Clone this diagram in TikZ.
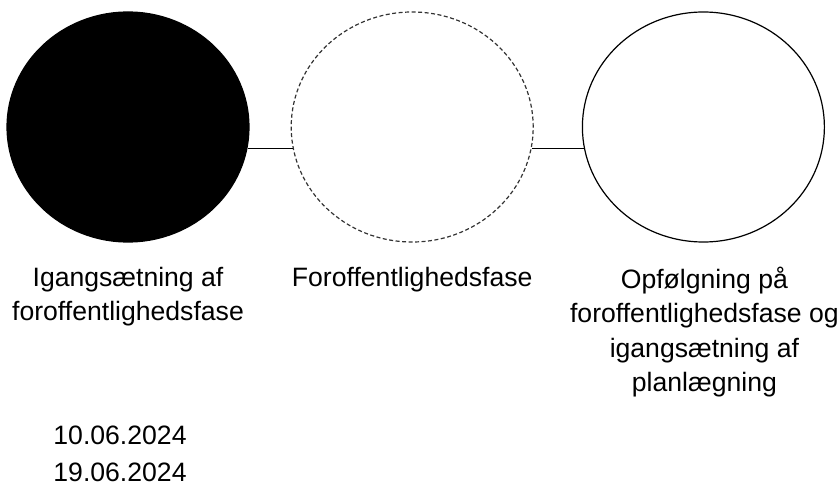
\documentclass[tikz,border=0pt]{standalone}
\usepackage{fontspec}
\setmainfont{Liberation Sans}
\usetikzlibrary{positioning,shapes.geometric}

\begin{document}
\begin{tikzpicture}[x=1pt,y=-1pt,
			phase/.style={draw,ellipse,line width=1.2pt,minimum width=242pt,minimum height=230pt,inner sep=0pt},
			caption/.style={align=center,inner sep=0pt,font=\fontsize{26.6}{34.5}\selectfont}]
			\useasboundingbox (0,0) rectangle (840,486);
			\node (start) [phase,fill=black] at (128,127) {};
			\node (pre) [phase,right=41pt of start,draw=black!80,dash pattern=on 4pt off 2.5pt] {};
			\node (follow) [phase,right=48pt of pre] {};
			\draw [line width=1pt] (start.-10) -- (pre.190);
			\draw [line width=1pt] (pre.-10) -- (follow.190);
			\node (startlbl) [caption,below=24pt of start] {Igangsætning af\\foroffentlighedsfase};
			\node (prelbl) [caption,below=24pt of pre] {Foroffentlighedsfase};
			\node (followlbl) [caption,below=24pt of follow,xshift=1pt] {Opfølgning på\\foroffentlighedsfase og\\igangsætning af\\planlægning};
			\node (dates) [caption,align=left,font=\fontsize{26.6}{37}\selectfont,below=99pt of startlbl,xshift=-8pt] {10.06.2024\\19.06.2024};
		\end{tikzpicture}
\end{document}
